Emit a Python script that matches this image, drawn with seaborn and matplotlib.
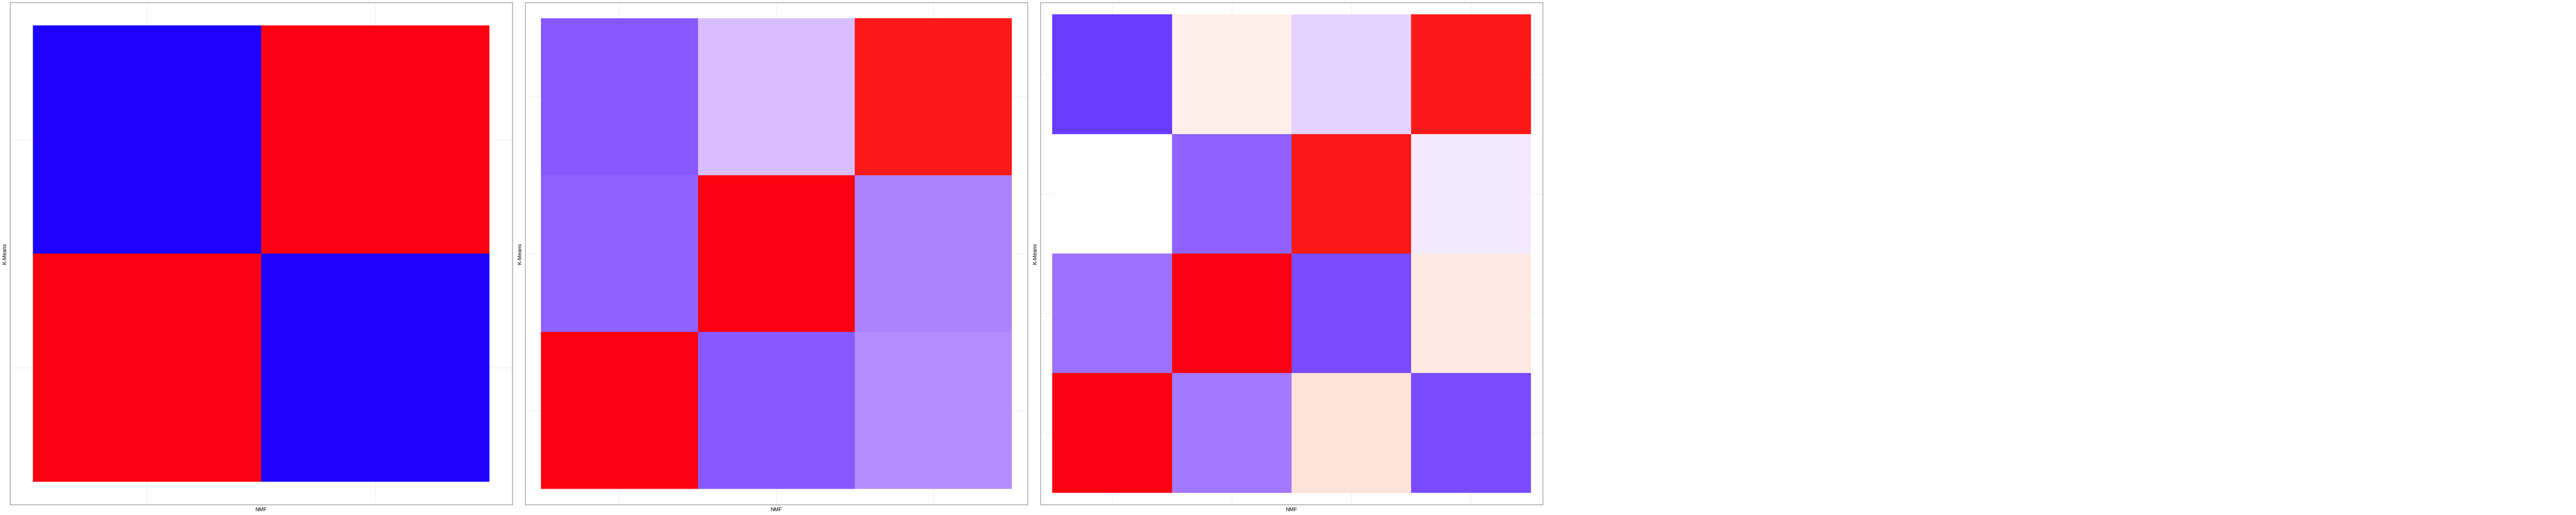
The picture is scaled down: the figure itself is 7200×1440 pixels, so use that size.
import numpy as np
import pandas as pd
import matplotlib
matplotlib.use("Agg")
import matplotlib.pyplot as plt
import matplotlib.colors as mcolors
import seaborn as sns

# cluster agreement, K-Means (rows, top to bottom) vs NMF (columns)
cells_k2 = [[-1.00, 1.00],
            [1.00, -1.00]]
cells_k3 = [[-0.72, -0.28, 0.97],
            [-0.68, 1.00, -0.54],
            [1.00, -0.72, -0.50]]
cells_k4 = [[-0.84, 0.08, -0.19, 0.97],
            [0.00, -0.68, 0.97, -0.09],
            [-0.62, 1.00, -0.78, 0.11],
            [1.00, -0.58, 0.15, -0.78]]
panels = [cells_k2, cells_k3, cells_k4]

x_title = "NMF"
y_title = "K-Means"
low_col, mid_col, high_col = "#1D00FF", "#FFFFFF", "#FA0010"

# ---- diverging palette interpolated in CIELAB ----
M = np.array([[0.4124, 0.3576, 0.1805],
              [0.2126, 0.7152, 0.0722],
              [0.0193, 0.1192, 0.9505]])
WHITE = np.array([0.95047, 1.0, 1.08883])
D = 6 / 29


def to_lab(h):
    rgb = np.array(mcolors.to_rgb(h))
    lin = np.where(rgb <= 0.04045, rgb / 12.92, ((rgb + 0.055) / 1.055) ** 2.4)
    xyz = M @ lin / WHITE
    f = np.where(xyz > D ** 3, np.cbrt(xyz), xyz / (3 * D ** 2) + 4 / 29)
    return np.array([116 * f[1] - 16, 500 * (f[0] - f[1]), 200 * (f[1] - f[2])])


def from_lab(lab):
    fy = (lab[0] + 16) / 116
    f = np.array([fy + lab[1] / 500, fy, fy - lab[2] / 200])
    xyz = np.where(f > D, f ** 3, 3 * D ** 2 * (f - 4 / 29)) * WHITE
    lin = np.clip(np.linalg.solve(M, xyz), 0, 1)
    return np.where(lin <= 0.0031308, 12.92 * lin, 1.055 * lin ** (1 / 2.4) - 0.055)


lab_lo, lab_mid, lab_hi = to_lab(low_col), to_lab(mid_col), to_lab(high_col)
ramp = []
for v in np.linspace(-1, 1, 256):
    end = lab_lo if v < 0 else lab_hi
    ramp.append(np.clip(from_lab(lab_mid + abs(v) * (end - lab_mid)), 0, 1))
cmap = mcolors.ListedColormap(ramp)

# ---- figure ----
sns.set_theme(style="white")
plt.rcParams["font.family"] = ["Liberation Sans", "DejaVu Sans"]

fig = plt.figure(figsize=(72, 14.4), dpi=100)
fig.patch.set_facecolor("white")

W, H = 7200, 1440
for i, vals in enumerate(panels):
    n = len(vals)
    left = (1440 * i + 28) / W
    ax = fig.add_axes([left, 29 / H, 1404 / W, 1404 / H])
    df = pd.DataFrame(vals)
    sns.heatmap(df, ax=ax, cmap=cmap, vmin=-1, vmax=1, cbar=False,
                linewidths=0)
    ax.set_xlim(-0.1, n + 0.1)
    ax.set_ylim(n + 0.1, -0.1)
    ax.set_axisbelow(True)
    ax.grid(True, color="#EBEBEB", linewidth=0.8)
    ax.tick_params(length=0, labelbottom=False, labelleft=False)
    for s in ax.spines.values():
        s.set_visible(True)
        s.set_color("#707070")
        s.set_linewidth(0.9)
    ax.set_xlabel(x_title, fontsize=10.7, labelpad=5, color="black")
    ax.set_ylabel(y_title, fontsize=10.7, labelpad=6, color="black")

fig.savefig("out.png", dpi=100, facecolor="white")
